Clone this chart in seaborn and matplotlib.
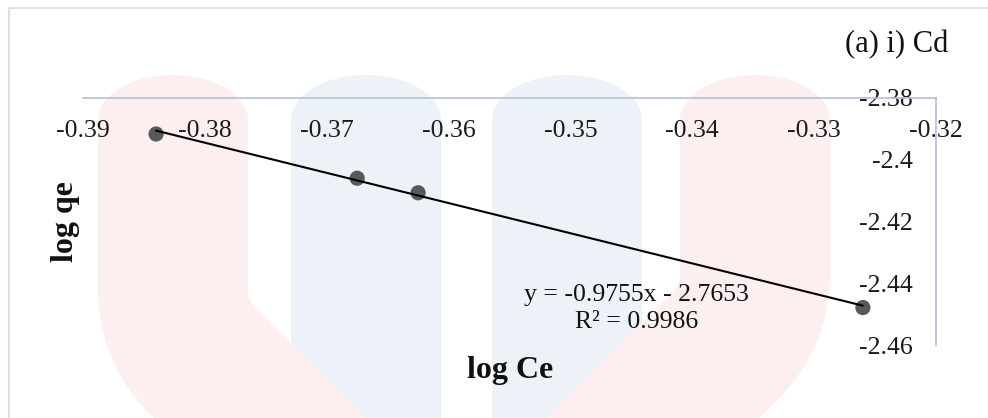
import numpy as np
import pandas as pd
import matplotlib
matplotlib.use("Agg")
import matplotlib.pyplot as plt
from matplotlib.patches import Polygon, Rectangle, Ellipse
from matplotlib.ticker import FixedLocator, FuncFormatter
import seaborn as sns

# Freundlich isotherm data for Cd
log_ce = [-0.3840, -0.3675, -0.3625, -0.3260]
log_qe = [-2.3918, -2.4061, -2.4108, -2.4479]

# linear fit reported on the chart
slope = -0.9755
intercept = -2.7653
r_squared = 0.9986

x_ticks = [-0.39, -0.38, -0.37, -0.36, -0.35, -0.34, -0.33, -0.32]
y_ticks = [-2.46, -2.44, -2.42, -2.40, -2.38]

sns.set_theme(style="white")
plt.rcParams["font.family"] = ["Liberation Serif", "DejaVu Serif"]

W, H = 988, 418
fig = plt.figure(figsize=(W / 100, H / 100), dpi=100)
fig.patch.set_facecolor("white")

# background layer in pixel coordinates: chart-area frame and faint logo
bg = fig.add_axes([0, 0, 1, 1], zorder=0)
bg.set_xlim(0, W)
bg.set_ylim(H, 0)
bg.axis("off")

half = 75          # half width of each logo band, px
top_y, cap_h = 120, 90
blue, pink = "#edf2f8", "#fdefef"


def bent_band(cx, bend_y, side, color, radius=100, end_y=620):
    """Vertical band that bends 45 degrees towards `side` (+1 right, -1 left)."""
    pts, tans = [], []
    for y in np.linspace(top_y, bend_y, 30):
        pts.append((cx, y)); tans.append((0.0, 1.0))
    ccx = cx + side * radius
    for t in np.linspace(0, np.pi / 4, 30):
        pts.append((ccx - side * radius * np.cos(t), bend_y + radius * np.sin(t)))
        tans.append((side * np.sin(t), np.cos(t)))
    ex, ey = pts[-1]
    d = np.array([side, 1.0]) / np.sqrt(2)
    for s in np.linspace(0, (end_y - ey) * np.sqrt(2), 10)[1:]:
        pts.append((ex + d[0] * s, ey + d[1] * s)); tans.append(tuple(d))
    pts, tans = np.array(pts), np.array(tans)
    normals = np.column_stack([-tans[:, 1], tans[:, 0]])
    outline = np.vstack([pts + half * normals, (pts - half * normals)[::-1]])
    bg.add_patch(Polygon(outline, closed=True, facecolor=color, edgecolor="none"))
    bg.add_patch(Ellipse((cx, top_y), 2 * half, cap_h, facecolor=color, edgecolor="none"))


for cx in (366, 567):
    bg.add_patch(Rectangle((cx - half, top_y), 2 * half, H, facecolor=blue, edgecolor="none"))
    bg.add_patch(Ellipse((cx, top_y), 2 * half, cap_h, facecolor=blue, edgecolor="none"))

bent_band(173, 290, +1, pink)
bent_band(755, 275, -1, pink)

bg.add_patch(Rectangle((8.5, 7.5), 1100, 600, fill=False, edgecolor="#dde1e6", lw=1.5))

# main plot
left, right, top, bottom = 83, 936, 97.5, 345
ax = fig.add_axes([left / W, 1 - bottom / H, (right - left) / W, (bottom - top) / H], zorder=1)
ax.set_facecolor("none")

sns.scatterplot(x=log_ce, y=log_qe, ax=ax, s=120, color="#595959",
                edgecolor="none", zorder=3, legend=False)

fit_x = np.array([min(log_ce), max(log_ce)])
fit_df = pd.DataFrame({"x": fit_x, "y": slope * fit_x + intercept})
sns.lineplot(data=fit_df, x="x", y="y", ax=ax, color="black", linewidth=1.5,
             zorder=4, legend=False)

ax.set_xlim(-0.39, -0.32)
ax.set_ylim(-2.46, -2.38)
ax.xaxis.set_major_locator(FixedLocator(x_ticks))
ax.yaxis.set_major_locator(FixedLocator(y_ticks))
fmt = FuncFormatter(lambda v, pos: f"{round(v, 4):g}")
ax.xaxis.set_major_formatter(fmt)
ax.yaxis.set_major_formatter(fmt)

# axes cross at the top-right corner, labels sit inside
spine_color = "#b3c1d5"
ax.spines["bottom"].set_position(("axes", 1.0))
ax.spines["left"].set_position(("axes", 1.0))
for side in ("bottom", "left"):
    ax.spines[side].set_color(spine_color)
    ax.spines[side].set_linewidth(1.2)
    ax.spines[side].set_visible(True)
ax.spines["top"].set_visible(False)
ax.spines["right"].set_visible(False)

ax.tick_params(axis="x", length=0, pad=16.5, labelsize=18.5, labelcolor="#1a1a1a")
ax.tick_params(axis="y", length=0, pad=16.5, labelsize=18.5, labelcolor="#1a1a1a")
ax.set_xlabel("")
ax.set_ylabel("")

fig.text(510 / W, 1 - 378 / H, "log Ce", ha="center", va="baseline",
         fontsize=23, fontweight="bold", color="#111111")
fig.text(65 / W, 1 - 222 / H, "log qe", ha="center", va="center", rotation=90,
         fontsize=23, fontweight="bold", color="#111111")
fig.text(897 / W, 1 - 52 / H, "(a) i) Cd", ha="center", va="baseline",
         fontsize=22, color="#111111")

eq = f"y = {slope}x - {abs(intercept)}\nR\u00b2 = {r_squared}"
fig.text(636.5 / W, 1 - 308.5 / H, eq, ha="center", va="center",
         multialignment="center", linespacing=1.35, fontsize=18.5, color="#111111")

fig.savefig("out.png", dpi=100, facecolor="white")
